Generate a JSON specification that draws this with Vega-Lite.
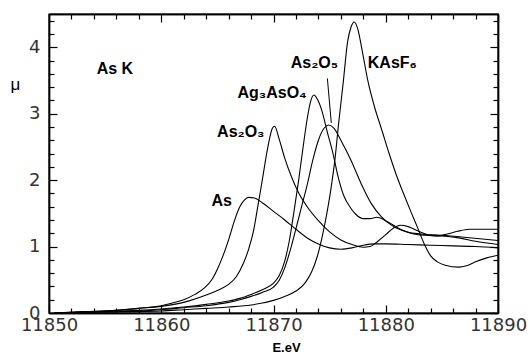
{
  "$schema": "https://vega.github.io/schema/vega-lite/v6.json",
  "width": 449,
  "height": 299,
  "autosize": {"type": "none"},
  "padding": {"left": 49, "top": 14, "right": 33, "bottom": 41},
  "background": "white",
  "config": {
    "view": {"stroke": "black", "strokeWidth": 1.4},
    "axis": {"tickColor": "black", "tickWidth": 1.2, "domainColor": "black", "domainWidth": 1.4, "gridOpacity": 0}
  },
  "datasets": {
    "curves": [
      {"s":"As","e":11850.5,"mu":0.0},{"s":"As","e":11852,"mu":0.01},{"s":"As","e":11854,"mu":0.02},{"s":"As","e":11856,"mu":0.04},{"s":"As","e":11858,"mu":0.07},{"s":"As","e":11860,"mu":0.11},{"s":"As","e":11861,"mu":0.15},{"s":"As","e":11862,"mu":0.2},{"s":"As","e":11863,"mu":0.28},{"s":"As","e":11863.8,"mu":0.37},{"s":"As","e":11864.5,"mu":0.5},{"s":"As","e":11865,"mu":0.66},{"s":"As","e":11865.5,"mu":0.86},{"s":"As","e":11866,"mu":1.1},{"s":"As","e":11866.5,"mu":1.38},{"s":"As","e":11867,"mu":1.6},{"s":"As","e":11867.4,"mu":1.7},{"s":"As","e":11867.8,"mu":1.74},{"s":"As","e":11868.3,"mu":1.73},{"s":"As","e":11869,"mu":1.66},{"s":"As","e":11870,"mu":1.53},{"s":"As","e":11871,"mu":1.4},{"s":"As","e":11872,"mu":1.26},{"s":"As","e":11873,"mu":1.13},{"s":"As","e":11874,"mu":1.04},{"s":"As","e":11875,"mu":0.98},{"s":"As","e":11876,"mu":0.96},{"s":"As","e":11877,"mu":0.98},{"s":"As","e":11878,"mu":1.02},{"s":"As","e":11879,"mu":1.04},{"s":"As","e":11880,"mu":1.04},{"s":"As","e":11882,"mu":1.03},{"s":"As","e":11884,"mu":1.02},{"s":"As","e":11886,"mu":1.01},{"s":"As","e":11888,"mu":1.0},{"s":"As","e":11890,"mu":0.98},

      {"s":"As2O3","e":11850.5,"mu":0.0},{"s":"As2O3","e":11853,"mu":0.02},{"s":"As2O3","e":11856,"mu":0.04},{"s":"As2O3","e":11858,"mu":0.07},{"s":"As2O3","e":11860,"mu":0.1},{"s":"As2O3","e":11862,"mu":0.16},{"s":"As2O3","e":11863,"mu":0.21},{"s":"As2O3","e":11864,"mu":0.27},{"s":"As2O3","e":11865,"mu":0.34},{"s":"As2O3","e":11866,"mu":0.43},{"s":"As2O3","e":11866.7,"mu":0.55},{"s":"As2O3","e":11867.3,"mu":0.74},{"s":"As2O3","e":11867.8,"mu":0.97},{"s":"As2O3","e":11868.2,"mu":1.22},{"s":"As2O3","e":11868.6,"mu":1.6},{"s":"As2O3","e":11869,"mu":2.0},{"s":"As2O3","e":11869.5,"mu":2.5},{"s":"As2O3","e":11869.9,"mu":2.78},{"s":"As2O3","e":11870.1,"mu":2.81},{"s":"As2O3","e":11870.5,"mu":2.62},{"s":"As2O3","e":11871,"mu":2.33},{"s":"As2O3","e":11871.6,"mu":2.05},{"s":"As2O3","e":11872.2,"mu":1.82},{"s":"As2O3","e":11873,"mu":1.6},{"s":"As2O3","e":11874,"mu":1.39},{"s":"As2O3","e":11875,"mu":1.22},{"s":"As2O3","e":11876,"mu":1.1},{"s":"As2O3","e":11877,"mu":1.03},{"s":"As2O3","e":11878,"mu":0.99},{"s":"As2O3","e":11878.6,"mu":1.0},{"s":"As2O3","e":11879.3,"mu":1.08},{"s":"As2O3","e":11880,"mu":1.18},{"s":"As2O3","e":11880.7,"mu":1.28},{"s":"As2O3","e":11881.3,"mu":1.32},{"s":"As2O3","e":11882,"mu":1.3},{"s":"As2O3","e":11882.8,"mu":1.24},{"s":"As2O3","e":11883.7,"mu":1.18},{"s":"As2O3","e":11884.6,"mu":1.16},{"s":"As2O3","e":11885.5,"mu":1.19},{"s":"As2O3","e":11886.4,"mu":1.23},{"s":"As2O3","e":11887.5,"mu":1.26},{"s":"As2O3","e":11890,"mu":1.26},

      {"s":"Ag3AsO4","e":11850.5,"mu":0.0},{"s":"Ag3AsO4","e":11853,"mu":0.01},{"s":"Ag3AsO4","e":11856,"mu":0.03},{"s":"Ag3AsO4","e":11858,"mu":0.04},{"s":"Ag3AsO4","e":11860,"mu":0.06},{"s":"Ag3AsO4","e":11862,"mu":0.09},{"s":"Ag3AsO4","e":11864,"mu":0.13},{"s":"Ag3AsO4","e":11866,"mu":0.18},{"s":"Ag3AsO4","e":11867,"mu":0.22},{"s":"Ag3AsO4","e":11868,"mu":0.28},{"s":"Ag3AsO4","e":11869,"mu":0.35},{"s":"Ag3AsO4","e":11870,"mu":0.45},{"s":"Ag3AsO4","e":11870.5,"mu":0.56},{"s":"Ag3AsO4","e":11871,"mu":0.78},{"s":"Ag3AsO4","e":11871.4,"mu":1.08},{"s":"Ag3AsO4","e":11871.8,"mu":1.5},{"s":"Ag3AsO4","e":11872.2,"mu":1.95},{"s":"Ag3AsO4","e":11872.6,"mu":2.45},{"s":"Ag3AsO4","e":11873,"mu":2.92},{"s":"Ag3AsO4","e":11873.3,"mu":3.18},{"s":"Ag3AsO4","e":11873.6,"mu":3.28},{"s":"Ag3AsO4","e":11873.9,"mu":3.22},{"s":"Ag3AsO4","e":11874.3,"mu":3.05},{"s":"Ag3AsO4","e":11874.8,"mu":2.72},{"s":"Ag3AsO4","e":11875.3,"mu":2.4},{"s":"Ag3AsO4","e":11875.8,"mu":2.02},{"s":"Ag3AsO4","e":11876.3,"mu":1.75},{"s":"Ag3AsO4","e":11876.8,"mu":1.6},{"s":"Ag3AsO4","e":11877.3,"mu":1.49},{"s":"Ag3AsO4","e":11878,"mu":1.42},{"s":"Ag3AsO4","e":11878.6,"mu":1.42},{"s":"Ag3AsO4","e":11879.2,"mu":1.44},{"s":"Ag3AsO4","e":11880.2,"mu":1.37},{"s":"Ag3AsO4","e":11881.3,"mu":1.26},{"s":"Ag3AsO4","e":11882.5,"mu":1.19},{"s":"Ag3AsO4","e":11883.5,"mu":1.17},{"s":"Ag3AsO4","e":11885,"mu":1.16},{"s":"Ag3AsO4","e":11886.5,"mu":1.13},{"s":"Ag3AsO4","e":11888,"mu":1.08},{"s":"Ag3AsO4","e":11890,"mu":1.03},

      {"s":"As2O5","e":11850.5,"mu":0.0},{"s":"As2O5","e":11853,"mu":0.01},{"s":"As2O5","e":11856,"mu":0.02},{"s":"As2O5","e":11858,"mu":0.03},{"s":"As2O5","e":11860,"mu":0.05},{"s":"As2O5","e":11862,"mu":0.08},{"s":"As2O5","e":11864,"mu":0.11},{"s":"As2O5","e":11866,"mu":0.16},{"s":"As2O5","e":11867,"mu":0.2},{"s":"As2O5","e":11868,"mu":0.25},{"s":"As2O5","e":11869,"mu":0.31},{"s":"As2O5","e":11870,"mu":0.39},{"s":"As2O5","e":11870.5,"mu":0.49},{"s":"As2O5","e":11871,"mu":0.68},{"s":"As2O5","e":11871.5,"mu":0.95},{"s":"As2O5","e":11872,"mu":1.27},{"s":"As2O5","e":11872.5,"mu":1.6},{"s":"As2O5","e":11873,"mu":1.93},{"s":"As2O5","e":11873.5,"mu":2.3},{"s":"As2O5","e":11874,"mu":2.6},{"s":"As2O5","e":11874.5,"mu":2.78},{"s":"As2O5","e":11874.9,"mu":2.83},{"s":"As2O5","e":11875.4,"mu":2.78},{"s":"As2O5","e":11876,"mu":2.6},{"s":"As2O5","e":11876.9,"mu":2.3},{"s":"As2O5","e":11877.8,"mu":1.95},{"s":"As2O5","e":11878.7,"mu":1.65},{"s":"As2O5","e":11879.6,"mu":1.45},{"s":"As2O5","e":11880.7,"mu":1.3},{"s":"As2O5","e":11881.9,"mu":1.22},{"s":"As2O5","e":11883.1,"mu":1.19},{"s":"As2O5","e":11884.9,"mu":1.17},{"s":"As2O5","e":11887,"mu":1.14},{"s":"As2O5","e":11890,"mu":1.09},

      {"s":"KAsF6","e":11850.5,"mu":0.0},{"s":"KAsF6","e":11853,"mu":0.01},{"s":"KAsF6","e":11856,"mu":0.015},{"s":"KAsF6","e":11858,"mu":0.02},{"s":"KAsF6","e":11860,"mu":0.03},{"s":"KAsF6","e":11862,"mu":0.05},{"s":"KAsF6","e":11864,"mu":0.07},{"s":"KAsF6","e":11866,"mu":0.09},{"s":"KAsF6","e":11868,"mu":0.12},{"s":"KAsF6","e":11869,"mu":0.15},{"s":"KAsF6","e":11870,"mu":0.19},{"s":"KAsF6","e":11871,"mu":0.25},{"s":"KAsF6","e":11872,"mu":0.33},{"s":"KAsF6","e":11872.8,"mu":0.45},{"s":"KAsF6","e":11873.4,"mu":0.62},{"s":"KAsF6","e":11873.9,"mu":0.85},{"s":"KAsF6","e":11874.3,"mu":1.12},{"s":"KAsF6","e":11874.7,"mu":1.45},{"s":"KAsF6","e":11875.1,"mu":1.85},{"s":"KAsF6","e":11875.5,"mu":2.35},{"s":"KAsF6","e":11875.8,"mu":2.85},{"s":"KAsF6","e":11876.2,"mu":3.45},{"s":"KAsF6","e":11876.6,"mu":4.08},{"s":"KAsF6","e":11876.9,"mu":4.3},{"s":"KAsF6","e":11877.2,"mu":4.38},{"s":"KAsF6","e":11877.5,"mu":4.28},{"s":"KAsF6","e":11877.9,"mu":3.95},{"s":"KAsF6","e":11878.4,"mu":3.5},{"s":"KAsF6","e":11879,"mu":3.1},{"s":"KAsF6","e":11879.6,"mu":2.78},{"s":"KAsF6","e":11880.3,"mu":2.4},{"s":"KAsF6","e":11881,"mu":2.05},{"s":"KAsF6","e":11881.7,"mu":1.75},{"s":"KAsF6","e":11882.3,"mu":1.5},{"s":"KAsF6","e":11882.8,"mu":1.3},{"s":"KAsF6","e":11883.4,"mu":1.05},{"s":"KAsF6","e":11884,"mu":0.86},{"s":"KAsF6","e":11884.6,"mu":0.77},{"s":"KAsF6","e":11885.3,"mu":0.72},{"s":"KAsF6","e":11886.5,"mu":0.69},{"s":"KAsF6","e":11887.2,"mu":0.71},{"s":"KAsF6","e":11888,"mu":0.77},{"s":"KAsF6","e":11889,"mu":0.83},{"s":"KAsF6","e":11890,"mu":0.87}
    ],
    "labelsL": [
      {"t":"As K","e":11854.25,"mu":3.67},
      {"t":"As₂O₅","e":11871.54,"mu":3.76},
      {"t":"KAsF₆","e":11878.4,"mu":3.76}
    ],
    "labelsR": [
      {"t":"As","e":11866.3,"mu":1.69},
      {"t":"As₂O₃","e":11869.2,"mu":2.72},
      {"t":"Ag₃AsO₄","e":11872.96,"mu":3.31}
    ],
    "leader": [
      {"e":11874.8,"mu":3.53,"e2":11875.15,"mu2":2.86}
    ]
  },
  "layer": [
    {
      "data": {"name": "curves"},
      "mark": {"type": "line", "color": "black", "strokeWidth": 1.1, "interpolate": "monotone"},
      "encoding": {
        "detail": {"field": "s"},
        "x": {
          "field": "e", "type": "quantitative",
          "scale": {"domain": [11850, 11890], "nice": false, "zero": false},
          "axis": {
            "orient": "bottom",
            "values": [11850,11860,11870,11880,11890],
            "format": "d",
            "ticks": true, "tickSize": -8,
            "labelFont": "DejaVu Sans", "labelFontSize": 18, "labelColor": "#333", "labelPadding": 11,
            "labelFlush": false,
            "title": "E.eV", "titleFont": "Liberation Sans", "titleFontSize": 13, "titleFontWeight": "bold", "titleColor": "black",
            "titleX": 237, "titleY": 38, "titleBaseline": "alphabetic"
          }
        },
        "y": {
          "field": "mu", "type": "quantitative",
          "scale": {"domain": [0, 4.5], "nice": false, "zero": false},
          "axis": {
            "orient": "left",
            "values": [0,1,2,3,4],
            "format": "d",
            "ticks": true, "tickSize": -8,
            "labelFont": "DejaVu Sans", "labelFontSize": 18, "labelColor": "#333", "labelPadding": 17,
            "title": "μ", "titleAngle": 0, "titleFont": "Liberation Sans", "titleFontSize": 17, "titleFontWeight": "normal", "titleColor": "black",
            "titleX": -34, "titleY": 70, "titleAlign": "center", "titleBaseline": "middle"
          }
        }
      }
    },
    {
      "data": {"name": "curves"},
      "mark": {"type": "point", "opacity": 0},
      "encoding": {
        "x": {
          "field": "e", "type": "quantitative",
          "axis": {
            "orient": "bottom",
            "values": [11852,11854,11856,11858,11862,11864,11866,11868,11872,11874,11876,11878,11882,11884,11886,11888],
            "labels": false, "ticks": true, "tickSize": -5, "title": null
          }
        },
        "y": {
          "field": "mu", "type": "quantitative",
          "axis": {
            "orient": "left",
            "values": [0.2,0.4,0.6,0.8,1.2,1.4,1.6,1.8,2.2,2.4,2.6,2.8,3.2,3.4,3.6,3.8,4.2,4.4],
            "labels": false, "ticks": true, "tickSize": -5, "title": null
          }
        }
      }
    },
    {
      "data": {"name": "curves"},
      "mark": {"type": "point", "opacity": 0},
      "encoding": {
        "x": {
          "field": "e", "type": "quantitative",
          "axis": {
            "orient": "top",
            "values": [11850,11860,11870,11880,11890],
            "labels": false, "ticks": true, "tickSize": -8, "title": null
          }
        },
        "y": {
          "field": "mu", "type": "quantitative",
          "axis": {
            "orient": "right",
            "values": [0,1,2,3,4],
            "labels": false, "ticks": true, "tickSize": -8, "title": null
          }
        }
      }
    },
    {
      "data": {"name": "curves"},
      "mark": {"type": "point", "opacity": 0},
      "encoding": {
        "x": {
          "field": "e", "type": "quantitative",
          "axis": {
            "orient": "top",
            "values": [11852,11854,11856,11858,11862,11864,11866,11868,11872,11874,11876,11878,11882,11884,11886,11888],
            "labels": false, "ticks": true, "tickSize": -5, "title": null
          }
        },
        "y": {
          "field": "mu", "type": "quantitative",
          "axis": {
            "orient": "right",
            "values": [0.2,0.4,0.6,0.8,1.2,1.4,1.6,1.8,2.2,2.4,2.6,2.8,3.2,3.4,3.6,3.8,4.2,4.4],
            "labels": false, "ticks": true, "tickSize": -5, "title": null
          }
        }
      }
    },
    {
      "data": {"name": "leader"},
      "mark": {"type": "rule", "color": "black", "strokeWidth": 1},
      "encoding": {
        "x": {"field": "e", "type": "quantitative", "axis": null},
        "y": {"field": "mu", "type": "quantitative", "axis": null},
        "x2": {"field": "e2"},
        "y2": {"field": "mu2"}
      }
    },
    {
      "data": {"name": "labelsL"},
      "mark": {"type": "text", "align": "left", "baseline": "middle", "font": "Liberation Sans", "fontSize": 16, "fontWeight": "bold", "color": "black"},
      "encoding": {
        "x": {"field": "e", "type": "quantitative", "axis": null},
        "y": {"field": "mu", "type": "quantitative", "axis": null},
        "text": {"field": "t"}
      }
    },
    {
      "data": {"name": "labelsR"},
      "mark": {"type": "text", "align": "right", "baseline": "middle", "font": "Liberation Sans", "fontSize": 16, "fontWeight": "bold", "color": "black"},
      "encoding": {
        "x": {"field": "e", "type": "quantitative", "axis": null},
        "y": {"field": "mu", "type": "quantitative", "axis": null},
        "text": {"field": "t"}
      }
    }
  ],
  "resolve": {"axis": {"x": "independent", "y": "independent"}}
}
